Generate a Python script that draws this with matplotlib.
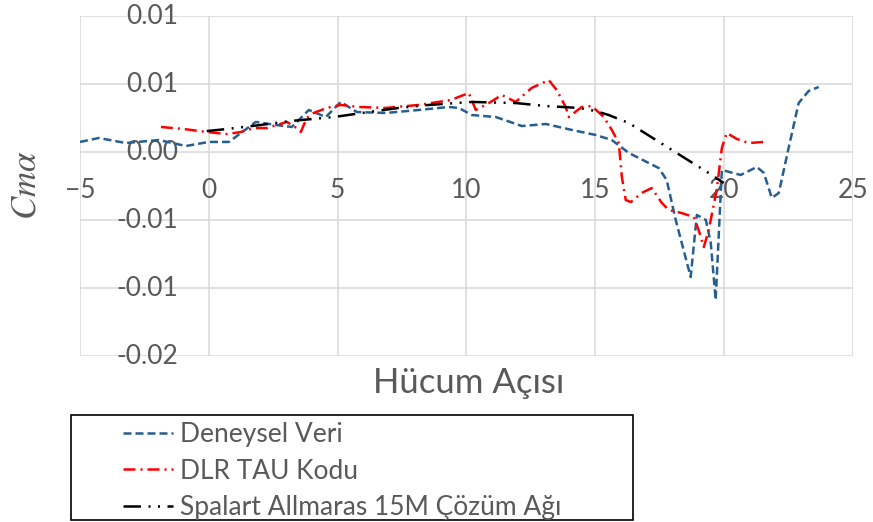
import matplotlib
matplotlib.use("Agg")
import matplotlib.pyplot as plt
from matplotlib.patches import Rectangle

plt.rcParams['font.family'] = ['Lato', 'DejaVu Sans']
plt.rcParams['mathtext.fontset'] = 'stix'

# Deneysel Veri (wind tunnel measurements)
exp_alpha = [-5.0, -4.27, -3.22, -1.94, -0.89, 0.0, 0.78, 1.82, 2.60, 3.22, 3.88, 4.54,
             5.12, 5.74, 6.87, 8.15, 9.31, 9.70, 10.21, 11.14, 12.15, 13.08, 14.09,
             15.02, 15.64, 16.30, 17.46, 17.77, 18.12, 18.70, 18.94, 19.29, 19.48,
             19.67, 19.91, 20.64, 21.27, 21.54, 21.85, 22.12, 22.51, 22.89, 23.28, 23.67]
exp_cma = [0.00074, 0.00103, 0.00066, 0.00088, 0.00044, 0.00074, 0.00074, 0.00221,
           0.00199, 0.00184, 0.00309, 0.00257, 0.00368, 0.00294, 0.00287, 0.00309,
           0.00331, 0.00324, 0.00272, 0.00257, 0.00191, 0.00206, 0.00162, 0.00125,
           0.00088, -0.00007, -0.00118, -0.00206, -0.00500, -0.00919, -0.00463,
           -0.00500, -0.00669, -0.01088, -0.00132, -0.00169, -0.00110, -0.00154,
           -0.00338, -0.00301, 0.00037, 0.00360, 0.00449, 0.00478]

# DLR TAU Kodu
tau_alpha = [-1.86, -0.97, -0.08, 0.70, 1.24, 1.75, 2.25, 3.03, 3.41, 3.57, 3.80, 4.07,
             4.58, 5.12, 5.82, 6.87, 8.15, 9.39, 10.09, 10.36, 10.87, 11.37, 11.91,
             12.53, 13.19, 13.50, 13.85, 13.97, 14.47, 14.86, 15.33, 15.64, 15.91,
             16.03, 16.18, 16.38, 16.80, 17.19, 17.58, 17.85, 18.35, 18.82, 19.01,
             19.21, 19.40, 19.71, 19.91, 20.10, 20.49, 20.95, 21.54]
tau_cma = [0.00184, 0.00169, 0.00147, 0.00132, 0.00147, 0.00176, 0.00176, 0.00221,
           0.00176, 0.00147, 0.00250, 0.00287, 0.00324, 0.00346, 0.00331, 0.00324,
           0.00346, 0.00382, 0.00434, 0.00309, 0.00360, 0.00419, 0.00368, 0.00471,
           0.00529, 0.00456, 0.00331, 0.00257, 0.00331, 0.00338, 0.00257, 0.00162,
           0.00066, -0.00184, -0.00353, -0.00368, -0.00301, -0.00265, -0.00375,
           -0.00426, -0.00449, -0.00478, -0.00574, -0.00699, -0.00574, -0.00279,
           0.00029, 0.00140, 0.00096, 0.00066, 0.00074]

# Spalart Allmaras, 15M cell mesh
sa_alpha = [-0.08, 0.70, 2.02, 3.18, 4.85, 6.21, 7.37, 8.54, 10.21, 11.91, 13.08,
            14.36, 15.02, 15.52, 16.30, 17.97, 19.52, 19.98]
sa_cma = [0.00154, 0.00169, 0.00199, 0.00228, 0.00257, 0.00294, 0.00324, 0.00346,
          0.00368, 0.00360, 0.00338, 0.00324, 0.00301, 0.00272, 0.00213, 0.00015,
          -0.00169, -0.00228]

x_ticks = [-5, 0, 5, 10, 15, 20, 25]
y_ticks = [-0.015, -0.010, -0.005, 0.0, 0.005, 0.010]
y_tick_labels = ['-0.02', '-0.01', '-0.01', '0.00', '0.01', '0.01']

series_labels = ['Deneysel Veri', 'DLR TAU Kodu', 'Spalart Allmaras 15M Çözüm Ağı']

GRAY = '#595959'
W, H = 873, 522

fig = plt.figure(figsize=(W / 100, H / 100), dpi=100)
ax = fig.add_axes([80 / W, (H - 356) / H, (853 - 80) / W, (356 - 16) / H])

lw = 1.8
h1, = ax.plot(exp_alpha, exp_cma, color='#255e91', lw=lw,
              linestyle=(0, (3.2, 1.6)), label=series_labels[0])
h2, = ax.plot(tau_alpha, tau_cma, color='#ff0000', lw=lw,
              linestyle=(0, (4.8, 2.0, 0.8, 2.0)), label=series_labels[1])
h3, = ax.plot(sa_alpha, sa_cma, color='#000000', lw=lw,
              linestyle=(0, (7.0, 3.0, 0.8, 3.0, 0.8, 3.0)), label=series_labels[2])

ax.set_xlim(-5, 25)
ax.set_ylim(-0.015, 0.010)
ax.set_xticks(x_ticks)
ax.set_yticks(y_ticks)
ax.set_yticklabels(y_tick_labels)
ax.grid(True, color='#d9d9d9', lw=1.1)
ax.set_axisbelow(True)
for s in ax.spines.values():
    s.set_visible(False)
ax.spines['bottom'].set_position(('data', 0))

ax.tick_params(axis='x', length=0, pad=19, labelsize=19, labelcolor=GRAY)
ax.tick_params(axis='y', length=0, pad=-70.5, labelsize=19, labelcolor=GRAY)
for t in ax.get_yticklabels():
    t.set_verticalalignment('center')

fig.text(468.5 / W, 1 - 393 / H, 'Hücum Açısı', ha='center', va='baseline',
         fontsize=25, color=GRAY)
fig.text(25 / W, 1 - 185 / H, r'$Cm\alpha$', ha='center', va='center',
         rotation=90, fontsize=25, color=GRAY)

fig.legend([h1, h2, h3], series_labels, loc='upper left',
           bbox_to_anchor=(123 / W, 1 - 422 / H), frameon=False,
           borderpad=0, borderaxespad=0, handlelength=1.9, handletextpad=0.27,
           labelspacing=0.44, fontsize=19, labelcolor=GRAY)
fig.add_artist(Rectangle((71 / W, 1 - 520 / H), (633 - 71) / W, (520 - 415) / H,
                         transform=fig.transFigure, fill=False,
                         edgecolor='black', lw=1.2))

fig.savefig('out.png', dpi=100)
